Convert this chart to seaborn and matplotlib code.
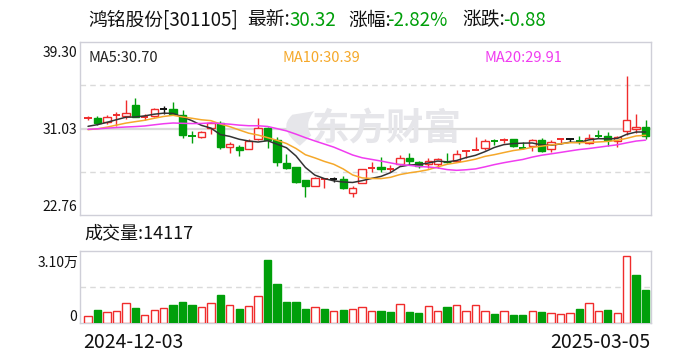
import numpy as np
import pandas as pd
import matplotlib
matplotlib.use("Agg")
import matplotlib.pyplot as plt
from matplotlib.path import Path
from matplotlib.patches import PathPatch
import seaborn as sns

# ---------------- data ----------------
date_labels = ["2024-12-03", "2025-03-05"]

open_ = [31.98, 32.03, 31.65, 32.33, 32.26, 33.28, 32.11, 32.23, 32.85, 32.89,
         32.32, 30.36, 30.25, 31.05, 31.59, 29.29, 29.23, 29.04, 30.03, 31.08,
         29.93, 27.76, 27.38, 26.11, 25.56, 26.18, 26.20, 26.17, 24.89, 25.79,
         27.26, 27.35, 27.14, 27.61, 28.18, 27.86, 27.61, 27.66, 27.86, 27.92,
         28.86, 28.97, 29.14, 29.85, 29.88, 30.03, 29.22, 29.36, 29.93, 29.04,
         30.01, 30.00, 29.88, 29.61, 30.33, 30.31, 29.86, 30.82, 30.98, 31.20]
high = [32.20, 32.23, 32.29, 32.56, 33.75, 33.95, 32.39, 32.96, 33.21, 33.59,
        32.77, 30.82, 30.79, 31.68, 31.75, 29.77, 29.45, 30.00, 32.00, 31.20,
        30.25, 28.56, 27.38, 26.11, 26.43, 26.33, 26.42, 26.49, 25.53, 27.13,
        27.86, 28.28, 27.54, 28.50, 28.66, 27.92, 28.24, 28.18, 28.72, 28.97,
        28.88, 30.25, 30.03, 30.03, 30.09, 30.03, 29.71, 30.00, 30.09, 29.93,
        30.03, 30.15, 30.31, 30.50, 30.89, 30.72, 30.31, 36.05, 32.42, 31.84]
low = [31.82, 31.36, 31.43, 31.27, 31.95, 32.10, 31.84, 32.16, 32.44, 32.32,
       30.09, 29.61, 30.09, 30.47, 29.07, 28.72, 28.43, 29.04, 29.93, 29.14,
       27.44, 27.16, 25.80, 24.51, 25.56, 25.31, 25.94, 25.22, 24.45, 25.79,
       26.90, 26.90, 26.87, 27.54, 27.54, 27.22, 27.22, 27.22, 27.70, 27.86,
       28.24, 28.93, 28.97, 29.45, 29.61, 29.29, 29.04, 28.91, 28.81, 28.81,
       29.55, 29.71, 29.55, 29.55, 30.09, 29.36, 29.23, 30.40, 30.57, 30.00]
close = [32.00, 31.59, 32.10, 32.35, 32.51, 32.10, 32.13, 32.89, 32.85, 32.39,
         30.41, 30.34, 30.67, 31.53, 29.29, 29.55, 28.97, 29.83, 31.05, 29.93,
         27.86, 27.28, 25.94, 25.53, 26.27, 26.20, 26.20, 25.37, 25.31, 27.13,
         27.28, 27.16, 27.16, 28.18, 27.92, 27.47, 27.92, 28.09, 27.80, 28.56,
         28.88, 29.00, 29.83, 29.83, 29.90, 29.39, 29.20, 29.90, 28.91, 29.74,
         30.03, 30.00, 29.86, 30.09, 30.31, 29.93, 30.19, 31.84, 31.20, 30.32]
# closes of the 19 sessions before the window (estimated so the MA lines match)
prior_close = [30.6, 30.8, 31.2, 31.5, 31.3, 30.9, 30.7, 30.8, 31.0, 31.0,
               30.8, 30.5, 30.4, 30.6, 30.7, 30.8, 31.0, 31.1, 31.3]

volume = [2870, 5600, 4590, 5020, 8470, 6460, 3300, 5450, 6310, 7750,
          9040, 7750, 6890, 8470, 12060, 7750, 6030, 7180, 11630, 27120,
          16790, 9040, 9040, 6030, 6750, 6030, 5020, 5600, 5880, 6750,
          5020, 5170, 4740, 8040, 4740, 4300, 7180, 5020, 6890, 7610,
          5020, 7610, 5020, 3880, 5020, 3440, 3440, 5020, 4740, 4160,
          3730, 4160, 6030, 8470, 5020, 5600, 4160, 28700, 20670, 14117]
vol_up = [1, 0, 1, 1, 1, 0, 1, 1, 1, 0, 0, 0, 1, 1, 0, 1, 0, 1, 1, 0,
          0, 0, 0, 0, 1, 0, 1, 0, 1, 1, 1, 0, 0, 1, 0, 0, 1, 1, 0, 1,
          1, 1, 1, 0, 1, 0, 0, 1, 0, 1, 1, 1, 0, 1, 1, 0, 1, 1, 0, 0]

title_parts = [("鸿铭股份[301105]", 88, "k"), ("最新:", 247, "k"), ("30.32", 289, "g"),
               ("涨幅:", 348, "k"), ("-2.82%", 387, "g"), ("涨跌:", 462, "k"),
               ("-0.88", 503, "g")]
ma_labels = ["MA5:30.70", "MA10:30.39", "MA20:29.91"]
price_ticks = [22.76, 31.03, 39.30]
vol_max = 31000

# ---------------- style ----------------
RED = "#f02c2c"
GREEN = "#009f0a"
BLACK = "#111111"
MA_COLORS = ["#333333", "#f5a82a", "#f03cf0"]
GRID = "#dadada"
SPINE = "#cfcfd8"
WATER = "#e6e6ea"

sns.set_theme(style="white")
plt.rcParams["font.family"] = ["Noto Sans CJK SC", "DejaVu Sans"]
plt.rcParams["axes.unicode_minus"] = False

W, H = 688, 360
fig = plt.figure(figsize=(W / 100, H / 100), dpi=100)
fig.patch.set_facecolor("white")


def rect(x0, y0, x1, y1):
    return [x0 / W, 1 - y1 / H, (x1 - x0) / W, (y1 - y0) / H]


def ftext(x, y, s, **kw):
    fig.text(x / W, 1 - y / H, s, **kw)


axp = fig.add_axes(rect(80, 42, 651, 215))
axv = fig.add_axes(rect(80, 251, 651, 323))

n = len(close)
idx = np.arange(n)
bw = 0.78

# ---------------- price panel ----------------
axp.axhline(price_ticks[1], color=GRID, lw=1.6, zorder=0)
q1 = price_ticks[0] + (price_ticks[2] - price_ticks[0]) * 0.25
q3 = price_ticks[0] + (price_ticks[2] - price_ticks[0]) * 0.75
for q in (q1, q3):
    axp.axhline(q, color=GRID, lw=1.0, ls=(0, (4, 3)), zorder=0)

# watermark (logo leaf + name)
leaf = Path([(0.385, 0.40), (0.345, 0.50), (0.372, 0.58), (0.410, 0.60),
             (0.392, 0.53), (0.405, 0.46), (0.385, 0.40)],
            [Path.MOVETO, Path.CURVE3, Path.CURVE3, Path.LINETO,
             Path.CURVE3, Path.CURVE3, Path.CLOSEPOLY])
axp.add_patch(PathPatch(leaf, transform=axp.transAxes, facecolor=WATER,
                        edgecolor="none", zorder=0))
axp.text(0.538, 0.50, "东方财富", transform=axp.transAxes, ha="center", va="center",
         fontsize=27, fontweight="bold", color=WATER, zorder=0)

for i in idx:
    o, h, l, c = open_[i], high[i], low[i], close[i]
    if c > o:
        col = RED
    elif c < o:
        col = GREEN
    else:
        col = BLACK
    axp.vlines(i, l, h, color=col, lw=1.0, zorder=2)
    if abs(c - o) < 0.05:
        axp.hlines((o + c) / 2, i - bw / 2, i + bw / 2, color=col, lw=1.4, zorder=3)
    else:
        axp.bar(i, abs(c - o), bottom=min(o, c), width=bw,
                facecolor="white" if c > o else col, edgecolor=col,
                linewidth=1.0, zorder=3)

all_close = pd.Series(prior_close + close)
for win, colr in zip((5, 10, 20), MA_COLORS):
    ma = all_close.rolling(win).mean().iloc[len(prior_close):].to_numpy()
    sns.lineplot(x=idx, y=ma, ax=axp, color=colr, lw=1.1, zorder=4, legend=False)

axp.set_xlim(-0.85, n - 1 + 0.57)
axp.set_ylim(price_ticks[0], price_ticks[2])

# ---------------- volume panel ----------------
axv.axhline(vol_max / 2, color=GRID, lw=1.0, ls=(0, (4, 3)), zorder=0)
axv.bar(idx, volume, width=bw,
        facecolor=["white" if u else GREEN for u in vol_up],
        edgecolor=[RED if u else GREEN for u in vol_up], linewidth=1.0, zorder=3)
axv.set_xlim(-0.85, n - 1 + 0.57)
axv.set_ylim(0, vol_max)

for ax in (axp, axv):
    ax.set_xticks([])
    ax.set_yticks([])
    ax.set_xlabel("")
    ax.set_ylabel("")
    for s in ax.spines.values():
        s.set_color(SPINE)
        s.set_linewidth(1.0)

# ---------------- texts ----------------
for s, x, c in title_parts:
    ftext(x, 20, s, fontsize=13.5, color=(BLACK if c == "k" else GREEN),
          ha="left", va="center")

for s, x, c in zip(ma_labels, (89, 282, 484), MA_COLORS):
    ftext(x, 58, s, fontsize=10.5, color=("#222222" if c == MA_COLORS[0] else c),
          ha="left", va="center")

for val, y in zip(price_ticks, (207, 130, 53)):
    ftext(77, y, f"{val:.2f}", fontsize=10, color=BLACK, ha="right", va="center")

ftext(78, 263, f"{vol_max / 10000:.2f}万", fontsize=10, color=BLACK, ha="right", va="center")
ftext(77, 317, "0", fontsize=10, color=BLACK, ha="right", va="center")

ftext(84, 233, f"成交量:{volume[-1]}", fontsize=13, color=BLACK, ha="left", va="center")

ftext(83, 342, date_labels[0], fontsize=14, color=BLACK, ha="left", va="center")
ftext(650, 342, date_labels[1], fontsize=14, color=BLACK, ha="right", va="center")

fig.savefig("out.png", dpi=100, facecolor="white")
